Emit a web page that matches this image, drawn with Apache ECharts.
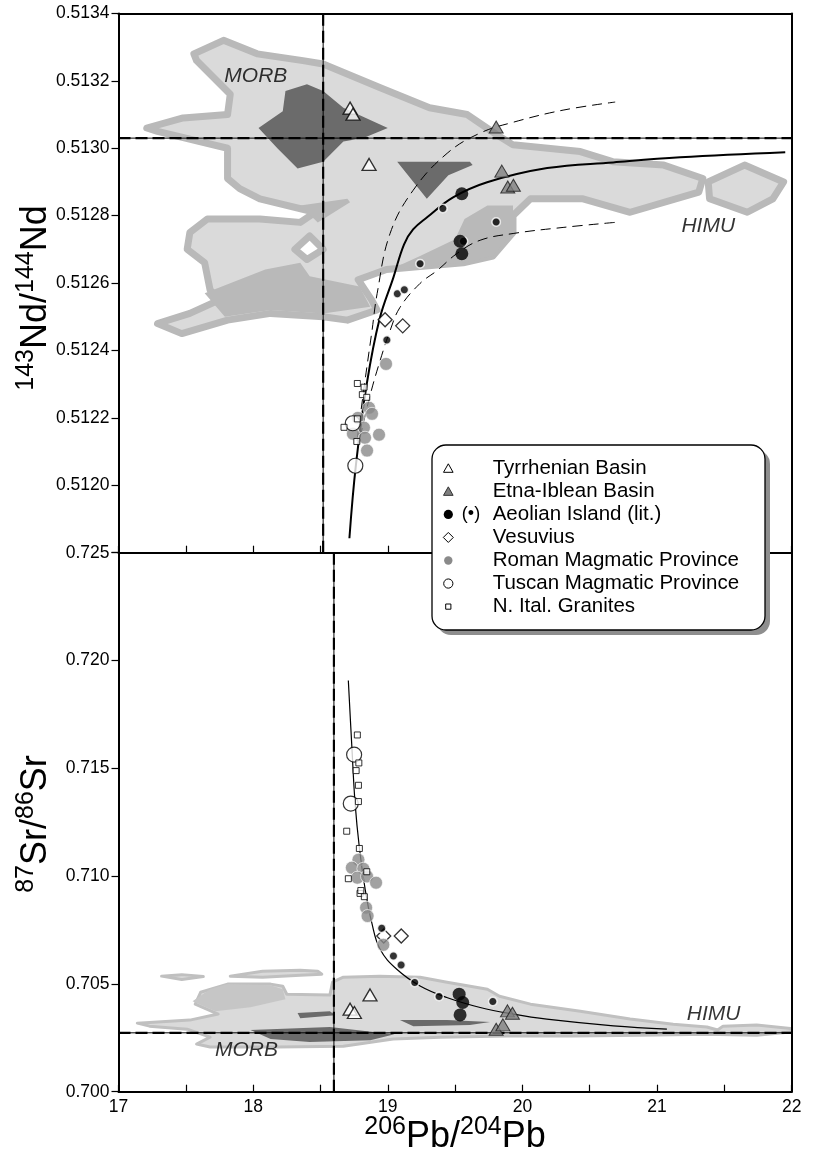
<!DOCTYPE html>
<html><head><meta charset="utf-8">
<script src="https://cdn.jsdelivr.net/npm/echarts@6/dist/echarts.min.js"></script>
<style>html,body{margin:0;padding:0;background:#fff}#c{width:814px;height:1152px}</style>
</head><body><div id="c"></div>
<script>
const FONT = '"Liberation Sans", Arial, Helvetica, sans-serif';

// ---- axes ----
const pbRange = [17, 22];
const ndRange = [0.5118, 0.5134];
const srRange = [0.700, 0.725];
const pbTickLabels = ['17', '18', '19', '20', '21', '22'];
const ndTickLabels = ['0.5120', '0.5122', '0.5124', '0.5126', '0.5128', '0.5130', '0.5132', '0.5134'];
const srTickLabels = ['0.700', '0.705', '0.710', '0.715', '0.720', '0.725'];

// ---- reference (MORB) crosshairs ----
const refNd = [18.52, 0.51303];
const refSr = [18.60, 0.70273];

// ---- 143Nd/144Nd vs 206Pb/204Pb ----
const tyrNd = [[18.72, 0.513119], [18.742, 0.513101], [18.861, 0.512952]];
const etnaNd = [[19.805, 0.513063], [19.847, 0.512932], [19.891, 0.512885], [19.933, 0.512890]];
const aeolNd = [[19.550, 0.512865], [19.537, 0.512724], [19.550, 0.512687]];
const aeolLitNd = [[19.409, 0.512821], [19.562, 0.512724], [19.805, 0.512781], [19.240, 0.512657], [19.071, 0.512568], [19.123, 0.512580], [18.993, 0.512431]];
const vesNd = [[18.980, 0.512491], [19.111, 0.512473]];
const romNd = [[18.987, 0.512360], [18.861, 0.512230], [18.883, 0.512212], [18.778, 0.512200], [18.823, 0.512171], [18.741, 0.512153], [18.831, 0.512141], [18.935, 0.512150], [18.846, 0.512103]];
const tusNd = [[18.740, 0.512184], [18.759, 0.512058]];
const graNd = [[18.774, 0.512302], [18.824, 0.512291], [18.811, 0.512269], [18.844, 0.512261], [18.774, 0.512197], [18.675, 0.512172], [18.770, 0.512130]];

const mixNd = [[18.715, 0.511843], [18.764, 0.512063], [18.844, 0.512301], [18.938, 0.512492], [19.042, 0.512617], [19.121, 0.512715], [19.188, 0.512759], [19.292, 0.512795], [19.485, 0.512854], [19.738, 0.512899], [20.184, 0.512941], [20.674, 0.512958], [21.172, 0.512973], [21.952, 0.512988]];
const mixNdUpper = [[18.772, 0.512132], [18.831, 0.512311], [18.883, 0.512459], [18.921, 0.512569], [19.017, 0.512747], [19.188, 0.512875], [19.441, 0.512985], [19.686, 0.513045], [19.931, 0.513077], [20.302, 0.513113], [20.689, 0.513137]];
const mixNdLower = [[18.794, 0.512141], [18.868, 0.512266], [18.943, 0.512370], [19.017, 0.512459], [19.091, 0.512528], [19.240, 0.512599], [19.366, 0.512637], [19.515, 0.512688], [19.686, 0.512727], [19.931, 0.512747], [20.302, 0.512765], [20.689, 0.512780]];

// MORB / OIB data-density contours (Nd panel)
const ndOuter = [
  [[17.21, 0.51306], [17.48, 0.51309], [17.81, 0.51310], [17.83, 0.51316], [17.58, 0.51326], [17.56, 0.51328], [17.78, 0.51332], [18.03, 0.51328], [18.37, 0.51326], [18.52, 0.51325], [18.94, 0.51318], [19.31, 0.51312], [19.59, 0.51310], [19.81, 0.51304], [19.93, 0.51301], [20.43, 0.51299], [20.67, 0.51296], [21.05, 0.51295], [21.34, 0.51291], [21.31, 0.51287], [20.80, 0.51281], [20.45, 0.51285], [20.06, 0.51285], [19.93, 0.51280], [19.93, 0.51275], [19.78, 0.51268], [19.56, 0.51266], [19.26, 0.51265], [18.99, 0.51264], [18.78, 0.51261], [18.88, 0.51255], [18.92, 0.51252], [18.70, 0.51249], [18.52, 0.51250], [18.13, 0.51251], [17.81, 0.51249], [17.47, 0.51245], [17.29, 0.51248], [17.53, 0.51251], [17.75, 0.51255], [17.68, 0.51258], [17.64, 0.51266], [17.51, 0.51270], [17.53, 0.51275], [17.66, 0.51279], [18.05, 0.51279], [18.35, 0.51278], [18.46, 0.51281], [18.05, 0.51285], [17.90, 0.51288], [17.81, 0.51291], [17.81, 0.51300], [17.29, 0.51305]],
  [[21.38, 0.51290], [21.65, 0.51295], [21.94, 0.51290], [21.86, 0.51285], [21.67, 0.51281], [21.39, 0.51285]]
];
const ndMid = [
  [[19.02, 0.51264], [19.56, 0.51266], [19.78, 0.51268], [19.93, 0.51275], [19.93, 0.51283], [19.74, 0.51283], [19.57, 0.51279], [19.50, 0.51273], [19.24, 0.51268]],
  [[17.64, 0.51257], [18.09, 0.51264], [18.35, 0.51266], [18.42, 0.51262], [18.79, 0.51259], [18.87, 0.51253], [18.52, 0.51251], [18.13, 0.51252], [17.79, 0.51250]],
  [[18.35, 0.51283], [18.70, 0.51285], [18.72, 0.51284], [18.48, 0.51278]]
];
const ndDark = [
  [[18.04, 0.51306], [18.22, 0.51311], [18.24, 0.51317], [18.40, 0.51319], [18.52, 0.51317], [18.67, 0.51312], [19.00, 0.51306], [18.82, 0.51303], [18.67, 0.51302], [18.52, 0.51296], [18.33, 0.51294], [18.18, 0.51300]],
  [[19.07, 0.51296], [19.61, 0.51296], [19.63, 0.51295], [19.45, 0.51292], [19.29, 0.51285]]
];
const ndHole = [[[18.42, 0.51274], [18.31, 0.51270], [18.40, 0.51267], [18.52, 0.51270]]];

// ---- 87Sr/86Sr vs 206Pb/204Pb ----
const tyrSr = [[18.868, 0.704489], [18.720, 0.703827], [18.752, 0.703674]];
const etnaSr = [[19.889, 0.703749], [19.926, 0.703642], [19.805, 0.702900], [19.855, 0.703100]];
const aeolSr = [[19.530, 0.704522], [19.557, 0.704138], [19.537, 0.703563]];
const aeolLitSr = [[18.955, 0.707577], [19.042, 0.706295], [19.099, 0.705878], [19.200, 0.705063], [19.381, 0.704415], [19.780, 0.704184]];
const vesSr = [[18.97, 0.707222], [19.10, 0.707222]];
const romSr = [[18.782, 0.710758], [18.733, 0.710388], [18.819, 0.710341], [18.774, 0.709925], [18.846, 0.709985], [18.913, 0.709693], [18.839, 0.708536], [18.850, 0.708147], [18.967, 0.706813]];
const tusSr = [[18.750, 0.715634], [18.725, 0.713365]];
const graSr = [[18.774, 0.716546], [18.785, 0.715249], [18.765, 0.714893], [18.782, 0.714212], [18.782, 0.713457], [18.695, 0.712082], [18.789, 0.711281], [18.844, 0.710202], [18.707, 0.709878], [18.794, 0.709198], [18.826, 0.709045], [18.800, 0.709330]];

const mixSr = [[18.707, 0.719074], [18.733, 0.716018], [18.757, 0.713397], [18.789, 0.711314], [18.832, 0.709383], [18.881, 0.707841], [18.943, 0.706605], [19.067, 0.705679], [19.240, 0.704906], [19.438, 0.704369], [19.686, 0.703906], [19.933, 0.703596], [20.181, 0.703364], [20.676, 0.703054], [21.073, 0.702901]];

const srOuter = [
  [[17.14, 0.70318], [17.53, 0.70332], [17.74, 0.70360], [17.57, 0.70406], [17.61, 0.70461], [17.81, 0.70499], [18.13, 0.70499], [18.22, 0.70489], [18.25, 0.70452], [18.57, 0.70448], [18.59, 0.70508], [18.67, 0.70531], [18.94, 0.70536], [19.24, 0.70531], [19.44, 0.70508], [19.74, 0.70475], [19.83, 0.70443], [20.06, 0.70406], [20.43, 0.70373], [20.80, 0.70337], [21.12, 0.70313], [21.37, 0.70300], [21.45, 0.70286], [21.49, 0.70304], [21.74, 0.70309], [22.05, 0.70290], [22.05, 0.70281], [21.74, 0.70262], [21.37, 0.70267], [20.87, 0.70262], [20.38, 0.70258], [19.89, 0.70258], [19.39, 0.70253], [19.04, 0.70244], [18.67, 0.70211], [18.18, 0.70207], [17.68, 0.70207], [17.58, 0.70221], [17.68, 0.70253], [17.51, 0.70290], [17.23, 0.70304]],
  [[17.32, 0.70536], [17.47, 0.70543], [17.63, 0.70534], [17.47, 0.70520]],
  [[17.83, 0.70536], [18.07, 0.70559], [18.35, 0.70563], [18.48, 0.70559], [18.51, 0.70545], [18.35, 0.70540], [18.07, 0.70531]]
];
const srMid = [[[17.55, 0.70420], [17.68, 0.70475], [17.81, 0.70499], [18.13, 0.70494], [18.22, 0.70475], [18.24, 0.70429], [17.98, 0.70392], [17.72, 0.70373]]];
const srDark = [
  [[18.33, 0.70365], [18.57, 0.70373], [18.61, 0.70355], [18.35, 0.70341]],
  [[19.09, 0.70332], [19.44, 0.70332], [19.76, 0.70323], [19.61, 0.70309], [19.19, 0.70304]],
  [[17.98, 0.70286], [18.57, 0.70300], [18.83, 0.70281], [19.05, 0.70267], [18.87, 0.70239], [18.42, 0.70230], [18.13, 0.70244]]
];

// region labels
const ndRegionLabels = [{ name: 'MORB', value: [18.02, 0.513214] }, { name: 'HIMU', value: [21.38, 0.512768] }];
const srRegionLabels = [{ name: 'MORB', value: [17.95, 0.70193] }, { name: 'HIMU', value: [21.42, 0.70360] }];

const legendLabels = ['Tyrrhenian Basin', 'Etna-Iblean Basin', 'Aeolian Island (lit.)', 'Vesuvius', 'Roman Magmatic Province', 'Tuscan Magmatic Province', 'N. Ital. Granites'];

// ---- colours ----
const C_MID = '#b9b9b9', C_LIGHT = '#dadada', C_DARK = '#6b6b6b', C_ETNA = '#7f7f7f', C_ROM = '#8a8a8a';

function polySeries(polys, idx, style, z) {
  return {
    type: 'custom', xAxisIndex: idx, yAxisIndex: idx, z: z, silent: true, clip: true,
    data: polys.map(p => p[0]),
    renderItem: function (params, api) {
      const pts = polys[params.dataIndex].map(v => api.coord(v));
      return { type: 'polygon', shape: { points: pts }, style: Object.assign({ lineJoin: 'round' }, style) };
    }
  };
}
function lineSeries(data, idx, style, z) {
  return { type: 'line', xAxisIndex: idx, yAxisIndex: idx, data: data, showSymbol: false, symbol: 'none', smooth: 0.4, z: z, silent: true, lineStyle: style };
}
function scatter(data, idx, symbol, size, itemStyle, z) {
  return { type: 'scatter', xAxisIndex: idx, yAxisIndex: idx, data: data, symbol: symbol, symbolSize: size, itemStyle: itemStyle, z: z, silent: true };
}
function labelSeries(data, idx) {
  return { type: 'scatter', xAxisIndex: idx, yAxisIndex: idx, data: data, symbolSize: 1, itemStyle: { color: 'rgba(0,0,0,0)' }, z: 6, silent: true,
    label: { show: true, position: 'inside', formatter: p => p.name, fontStyle: 'italic', fontSize: 21, fontFamily: FONT, color: '#000' } };
}
function refLines(ref, range, idx) {
  const v = [[ref[0], range[0]], [ref[0], range[1]]];
  const h = [[pbRange[0], ref[1]], [pbRange[1], ref[1]]];
  const thin = { color: '#000', width: 1 };
  const dash = { color: '#000', width: 2.2, type: [12, 5] };
  return [
    { type: 'line', xAxisIndex: idx, yAxisIndex: idx, data: v, symbol: 'none', z: 3, silent: true, lineStyle: thin },
    { type: 'line', xAxisIndex: idx, yAxisIndex: idx, data: v, symbol: 'none', z: 3, silent: true, lineStyle: dash },
    { type: 'line', xAxisIndex: idx, yAxisIndex: idx, data: h, symbol: 'none', z: 3, silent: true, lineStyle: thin },
    { type: 'line', xAxisIndex: idx, yAxisIndex: idx, data: h, symbol: 'none', z: 3, silent: true, lineStyle: dash }
  ];
}
function markerSet(d, idx) {
  return [
    scatter(d.ves, idx, 'diamond', 14, { color: '#fff', borderColor: '#000', borderWidth: 1.3 }, 4),
    scatter(d.rom, idx, 'circle', 13, { color: C_ROM, borderColor: '#fff', borderWidth: 0.8 }, 4),
    scatter(d.tus, idx, 'circle', 15, { color: '#fff', borderColor: '#000', borderWidth: 1.2 }, 4),
    scatter(d.gra, idx, 'rect', 6, { color: '#fff', borderColor: '#000', borderWidth: 1 }, 4),
    scatter(d.lit, idx, 'circle', 8.5, { color: '#000', borderColor: '#fff', borderWidth: 1.5 }, 4),
    scatter(d.aeo, idx, 'circle', 13, { color: '#000' }, 4),
    scatter(d.tyr, idx, 'triangle', [14, 12], { color: '#fff', borderColor: '#000', borderWidth: 1.3 }, 4),
    scatter(d.etna, idx, 'triangle', [14, 12], { color: C_ETNA, borderColor: '#1a1a1a', borderWidth: 1 }, 4)
  ];
}

const GL = 118.5, GW = 673.2;
const tickFont = { fontSize: 17.5, fontFamily: FONT, color: '#000' };
const axLine = { show: true, lineStyle: { color: '#000', width: 2 } };

function labelFrom(list, digits) {
  return v => { const s = v.toFixed(digits); return list.indexOf(s) >= 0 ? s : ''; };
}

const option = {
  animation: false,
  backgroundColor: '#fff',
  grid: [
    { left: GL, top: 13.4, width: GW, height: 539.3 },
    { left: GL, top: 552.7, width: GW, height: 539 }
  ],
  xAxis: [
    { gridIndex: 0, type: 'value', min: pbRange[0], max: pbRange[1], interval: 0.5, z: 10, axisLine: axLine, axisTick: { inside: true, length: 7, lineStyle: { color: '#000', width: 1.2 } }, axisLabel: { show: false }, splitLine: { show: false } },
    { gridIndex: 1, type: 'value', min: pbRange[0], max: pbRange[1], interval: 0.5, z: 10, axisLine: axLine, axisTick: { inside: true, length: 7, lineStyle: { color: '#000', width: 1.2 } },
      axisLabel: Object.assign({ margin: 6, formatter: v => { const r = Math.round(v); return Math.abs(v - r) < 1e-6 ? pbTickLabels[r - pbRange[0]] : ''; } }, tickFont), splitLine: { show: false } },
    { gridIndex: 0, type: 'value', position: 'top', min: pbRange[0], max: pbRange[1], z: 10, axisLine: axLine, axisTick: { show: false }, axisLabel: { show: false }, splitLine: { show: false } }
  ],
  yAxis: [
    { gridIndex: 0, type: 'value', min: ndRange[0], max: ndRange[1], interval: 0.0002, z: 10, axisLine: axLine, axisTick: { length: 7, lineStyle: { color: '#000', width: 1.2 } },
      axisLabel: Object.assign({ margin: 9, formatter: labelFrom(ndTickLabels, 4) }, tickFont), splitLine: { show: false } },
    { gridIndex: 1, type: 'value', min: srRange[0], max: srRange[1], interval: 0.005, z: 10, axisLine: axLine, axisTick: { length: 7, lineStyle: { color: '#000', width: 1.2 } },
      axisLabel: Object.assign({ margin: 9, formatter: labelFrom(srTickLabels, 3) }, tickFont), splitLine: { show: false } },
    { gridIndex: 0, type: 'value', position: 'right', min: ndRange[0], max: ndRange[1], z: 10, axisLine: axLine, axisTick: { show: false }, axisLabel: { show: false }, splitLine: { show: false } },
    { gridIndex: 1, type: 'value', position: 'right', min: srRange[0], max: srRange[1], z: 10, axisLine: axLine, axisTick: { show: false }, axisLabel: { show: false }, splitLine: { show: false } }
  ],
  series: [].concat(
    [
      polySeries(ndOuter, 0, { fill: C_LIGHT, stroke: C_MID, lineWidth: 7 }, 1),
      polySeries(ndMid, 0, { fill: C_MID }, 1),
      polySeries(ndDark, 0, { fill: C_DARK }, 1),
      polySeries(ndHole, 0, { fill: '#fff', stroke: C_MID, lineWidth: 7 }, 1),
      polySeries(srOuter, 1, { fill: C_LIGHT, stroke: '#c0c0c0', lineWidth: 3 }, 1),
      polySeries(srMid, 1, { fill: '#c6c6c6' }, 1),
      polySeries(srDark, 1, { fill: C_DARK }, 1)
    ],
    refLines(refNd, ndRange, 0),
    refLines(refSr, srRange, 1),
    [
      lineSeries(mixNd, 0, { color: '#000', width: 2 }, 3),
      lineSeries(mixNdUpper, 0, { color: '#000', width: 1, type: [10, 6] }, 3),
      lineSeries(mixNdLower, 0, { color: '#000', width: 1, type: [10, 6] }, 3),
      lineSeries(mixSr, 1, { color: '#000', width: 1.2 }, 3)
    ],
    markerSet({ ves: vesNd, rom: romNd, tus: tusNd, gra: graNd, lit: aeolLitNd, aeo: aeolNd, tyr: tyrNd, etna: etnaNd }, 0),
    markerSet({ ves: vesSr, rom: romSr, tus: tusSr, gra: graSr, lit: aeolLitSr, aeo: aeolSr, tyr: tyrSr, etna: etnaSr }, 1),
    [labelSeries(ndRegionLabels, 0), labelSeries(srRegionLabels, 1)]
  ),
  graphic: buildGraphics()
};

function buildGraphics() {
  const g = [];
  const rich = () => ({
    s: { fontSize: 25, lineHeight: 26, verticalAlign: 'top', fontFamily: FONT, fill: '#000' },
    m: { fontSize: 36, lineHeight: 40, verticalAlign: 'bottom', fontFamily: FONT, fill: '#000' }
  });
  const title = (x, y, rot, text) => ({
    type: 'text', x: x, y: y, rotation: rot, z: 50, silent: true,
    style: { text: text, rich: rich(), fill: '#000', align: 'center', textAlign: 'center', verticalAlign: 'middle', textVerticalAlign: 'middle' }
  });
  g.push(title(34, 298, Math.PI / 2, '{s|143}{m|Nd/}{s|144}{m|Nd}'));
  g.push(title(34, 824, Math.PI / 2, '{s|87}{m|Sr/}{s|86}{m|Sr}'));
  g.push(title(455, 1135, 0, '{s|206}{m|Pb/}{s|204}{m|Pb}'));

  // legend box
  const bx = 432, by = 445, bw = 333, bh = 185;
  g.push({ type: 'rect', z: 100, silent: true, shape: { x: bx + 5, y: by + 5, width: bw, height: bh, r: 14 }, style: { fill: '#8e8e8e' } });
  g.push({ type: 'rect', z: 101, silent: true, shape: { x: bx, y: by, width: bw, height: bh, r: 14 }, style: { fill: '#fff', stroke: '#000', lineWidth: 1.3 } });
  const sx = 448.3, y0 = 468.3, dy = 23.05;
  legendLabels.forEach((t, i) => {
    const y = y0 + i * dy;
    g.push({ type: 'text', z: 102, silent: true, x: 492.7, y: y, style: { text: t, fontSize: 20.5, fontFamily: FONT, fill: '#000', align: 'left', textAlign: 'left', verticalAlign: 'middle', textVerticalAlign: 'middle' } });
    let sym;
    if (i === 0) sym = { type: 'polygon', shape: { points: [[sx - 4.8, y + 4], [sx + 4.8, y + 4], [sx, y - 4.5]] }, style: { fill: '#fff', stroke: '#000', lineWidth: 1 } };
    else if (i === 1) sym = { type: 'polygon', shape: { points: [[sx - 4.8, y + 4], [sx + 4.8, y + 4], [sx, y - 4.5]] }, style: { fill: C_ETNA, stroke: '#333', lineWidth: 1 } };
    else if (i === 2) sym = { type: 'circle', shape: { cx: sx, cy: y, r: 4.6 }, style: { fill: '#000' } };
    else if (i === 3) sym = { type: 'polygon', shape: { points: [[sx, y - 5], [sx + 5, y], [sx, y + 5], [sx - 5, y]] }, style: { fill: '#fff', stroke: '#000', lineWidth: 1 } };
    else if (i === 4) sym = { type: 'circle', shape: { cx: sx, cy: y, r: 4.2 }, style: { fill: C_ROM } };
    else if (i === 5) sym = { type: 'circle', shape: { cx: sx, cy: y, r: 4.6 }, style: { fill: '#fff', stroke: '#000', lineWidth: 1 } };
    else sym = { type: 'rect', shape: { x: sx - 2.6, y: y - 2.6, width: 5.2, height: 5.2 }, style: { fill: '#fff', stroke: '#000', lineWidth: 1 } };
    sym.z = 102; sym.silent = true;
    g.push(sym);
    if (i === 2) g.push({ type: 'text', z: 102, silent: true, x: 471, y: y, style: { text: '(•)', fontSize: 18, fontFamily: FONT, fill: '#000', align: 'center', textAlign: 'center', verticalAlign: 'middle', textVerticalAlign: 'middle' } });
  });
  return g;
}

const chart = echarts.init(document.getElementById('c'), null, { renderer: 'canvas', width: 814, height: 1152 });
chart.setOption(option);
</script>
</body></html>
